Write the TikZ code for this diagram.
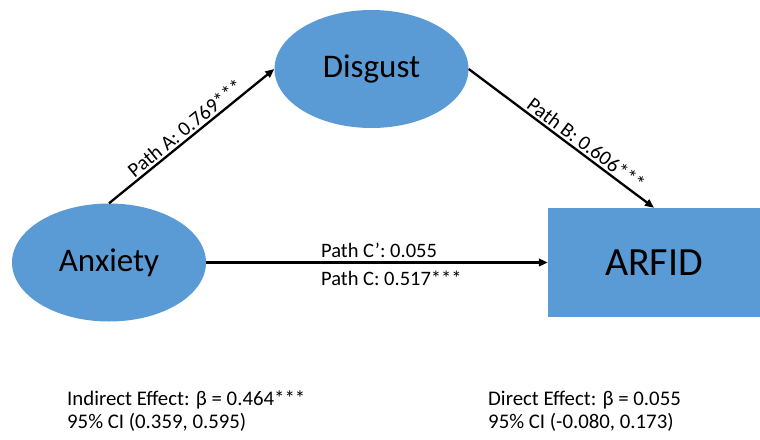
\documentclass[tikz,border=0pt]{standalone}
\usepackage{fontspec}
\setmainfont{Carlito}
\usetikzlibrary{arrows.meta,shapes.geometric}
\definecolor{nodeblue}{HTML}{5B9BD5}
\begin{document}
\begin{tikzpicture}[x=1pt,y=-1pt,
  blob/.style={ellipse, fill=nodeblue, inner sep=0pt, minimum width=194pt, minimum height=118pt, font=\fontsize{33}{36}\selectfont},
  box/.style={rectangle, fill=nodeblue, inner sep=0pt, minimum width=212pt, minimum height=109pt, font=\fontsize{40}{44}\selectfont},
  conn/.style={draw, line width=2.3pt, -{Triangle[length=9pt,width=7.5pt]}},
  lab/.style={font=\fontsize{20.5}{22}\selectfont, inner sep=2pt},
  note/.style={font=\fontsize{20.8}{23}\selectfont, anchor=base west, inner sep=0pt}]
\useasboundingbox (0,0) rectangle (760,439);
\node[blob] (dis) at (371.5,69) {Disgust};
\node[blob] (anx) at (109,262.5) {Anxiety};
\node[box] (arf) at (654,262.5) {ARFID};
\draw[conn] (anx.north) -- (dis.west) node[midway, above, sloped, lab] (la) {Path A: 0.769***};
\draw[conn] (dis.east) -- (arf.north) node[pos=0.6, above, sloped, lab] (lb) {Path B: 0.606***};
\draw[conn] (anx.east) -- (arf.west)
  node[pos=0.333, anchor=base west, yshift=5pt, lab, inner sep=0pt] (lcp) {Path C’: 0.055}
  node[pos=0.333, anchor=base west, yshift=-23pt, lab, inner sep=0pt] (lc) {Path C: 0.517***};
\node[note] (ind1) at (67,405) {Indirect Effect: β = 0.464***};
\node[note] (ind2) at (67,428) {95\% CI (0.359, 0.595)};
\node[note] (dir1) at (488,405) {Direct Effect: β = 0.055};
\node[note] (dir2) at (488,428) {95\% CI (-0.080, 0.173)};
\end{tikzpicture}
\end{document}
